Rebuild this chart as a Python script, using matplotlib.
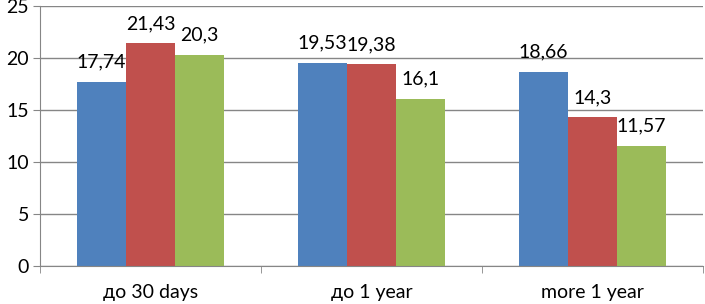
import numpy as np
import matplotlib.pyplot as plt

categories = ["до 30 days", "до 1 year", "more 1 year"]
series_a = [17.74, 19.53, 18.66]
series_b = [21.43, 19.38, 14.3]
series_c = [20.3, 16.1, 11.57]
labels_a = ["17,74", "19,53", "18,66"]
labels_b = ["21,43", "19,38", "14,3"]
labels_c = ["20,3", "16,1", "11,57"]

colors = ["#4F81BD", "#C0504D", "#9BBB59"]
grid_col = "#868686"

plt.rcParams['font.family'] = ['Lato', 'DejaVu Sans']

fig = plt.figure(figsize=(7.05, 3.04), dpi=100)
ax = fig.add_axes([40 / 705, 1 - 266 / 304, 663 / 705, 260 / 304])

x = np.arange(len(categories))
w = 1 / 4.5
for i, (vals, labs) in enumerate([(series_a, labels_a), (series_b, labels_b), (series_c, labels_c)]):
    bars = ax.bar(x + (i - 1) * w, vals, width=w, color=colors[i], zorder=2)
    ax.bar_label(bars, labels=labs, padding=8, fontsize=14, color="#000000")

ax.set_xlim(-0.5, 2.5)
ax.set_ylim(0, 25)
ax.set_yticks(range(0, 26, 5))
ax.yaxis.grid(True, color=grid_col, linewidth=1, zorder=0)
ax.set_axisbelow(True)

ax.set_xticks(x)
ax.set_xticklabels(categories, fontsize=14)
ax.set_xticks([-0.5, 0.5, 1.5, 2.5], minor=True)
ax.tick_params(axis='x', which='major', length=0, pad=13)
ax.tick_params(axis='x', which='minor', length=5, color=grid_col)
ax.tick_params(axis='y', length=5, color=grid_col, labelsize=14, pad=3)

for s in ['top', 'right']:
    ax.spines[s].set_visible(False)
ax.spines['left'].set_color(grid_col)
ax.spines['bottom'].set_color(grid_col)

fig.savefig("out.png", dpi=100)
